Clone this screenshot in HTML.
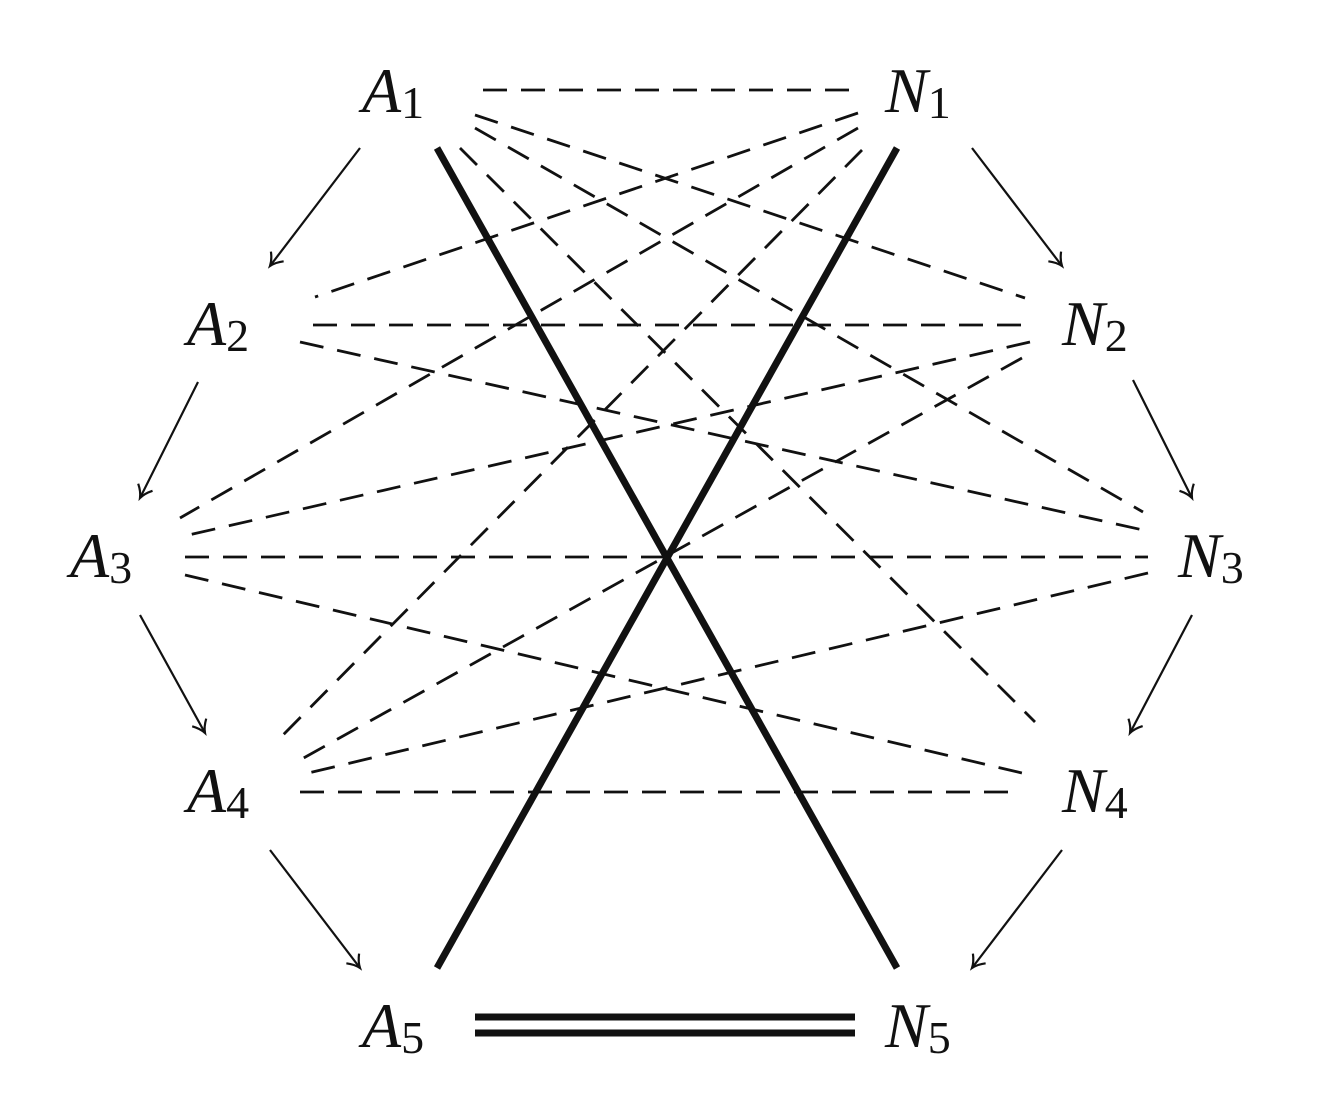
<!DOCTYPE html>
<html><head><style>html,body{margin:0;padding:0;background:#fff}svg{display:block}
text{font-family:"Liberation Serif","DejaVu Serif",serif;font-style:italic;font-size:64px;fill:#111}
tspan.s{font-style:normal;font-size:46px}
</style></head>
<body>
<svg width="1325" height="1111" viewBox="0 0 1325 1111" xmlns="http://www.w3.org/2000/svg">
<defs>
<marker id="ah" markerWidth="20" markerHeight="20" refX="14" refY="10" orient="auto" markerUnits="userSpaceOnUse">
<path d="M2,2 Q8,8 14,10 Q8,12 2,18" fill="none" stroke="#111" stroke-width="2.2"/>
</marker>
</defs>
<g stroke="#111" stroke-width="2.8" stroke-dasharray="24,14" fill="none">
<line x1="483" y1="90" x2="858" y2="90"/>
<line x1="475" y1="115" x2="1025" y2="298"/>
<line x1="475" y1="128" x2="1143" y2="512"/>
<line x1="460" y1="148" x2="1035" y2="722"/>
<line x1="858" y1="113" x2="315" y2="297"/>
<line x1="858" y1="128" x2="180" y2="518"/>
<line x1="862" y1="150" x2="283" y2="735"/>
<line x1="313" y1="325" x2="1030" y2="325"/>
<line x1="300" y1="342" x2="1143" y2="530"/>
<line x1="1030" y1="342" x2="180" y2="537"/>
<line x1="1022" y1="358" x2="300" y2="760"/>
<line x1="185" y1="557" x2="1148" y2="557"/>
<line x1="185" y1="575" x2="1022" y2="773"/>
<line x1="1148" y1="573" x2="300" y2="775"/>
<line x1="300" y1="792" x2="1020" y2="792"/>
</g>
<g stroke="#111" stroke-width="7">
<line x1="437" y1="148" x2="897" y2="968"/>
<line x1="897" y1="148" x2="437" y2="968"/>
<line x1="475" y1="1017" x2="855" y2="1017"/>
<line x1="475" y1="1033" x2="855" y2="1033"/>
</g>
<g stroke="#111" stroke-width="2.2" marker-end="url(#ah)">
<line x1="360" y1="148" x2="270" y2="266"/>
<line x1="198" y1="382" x2="140" y2="498"/>
<line x1="140" y1="615" x2="205" y2="733"/>
<line x1="270" y1="850" x2="360" y2="968"/>
<line x1="972" y1="148" x2="1062" y2="266"/>
<line x1="1133" y1="380" x2="1192" y2="498"/>
<line x1="1192" y1="615" x2="1130" y2="733"/>
<line x1="1062" y1="850" x2="972" y2="968"/>
</g>
<text x="362" y="112" style="font-family:'Liberation Serif',serif;font-style:italic">A<tspan class="s" dy="6" style="font-style:normal">1</tspan></text>
<text x="885" y="112" style="font-family:'Liberation Serif',serif;font-style:italic">N<tspan class="s" dy="6" style="font-style:normal">1</tspan></text>
<text x="187" y="345" style="font-family:'Liberation Serif',serif;font-style:italic">A<tspan class="s" dy="6" style="font-style:normal">2</tspan></text>
<text x="1062" y="345" style="font-family:'Liberation Serif',serif;font-style:italic">N<tspan class="s" dy="6" style="font-style:normal">2</tspan></text>
<text x="70" y="577" style="font-family:'Liberation Serif',serif;font-style:italic">A<tspan class="s" dy="6" style="font-style:normal">3</tspan></text>
<text x="1178" y="577" style="font-family:'Liberation Serif',serif;font-style:italic">N<tspan class="s" dy="6" style="font-style:normal">3</tspan></text>
<text x="187" y="812" style="font-family:'Liberation Serif',serif;font-style:italic">A<tspan class="s" dy="6" style="font-style:normal">4</tspan></text>
<text x="1062" y="812" style="font-family:'Liberation Serif',serif;font-style:italic">N<tspan class="s" dy="6" style="font-style:normal">4</tspan></text>
<text x="362" y="1047" style="font-family:'Liberation Serif',serif;font-style:italic">A<tspan class="s" dy="6" style="font-style:normal">5</tspan></text>
<text x="885" y="1047" style="font-family:'Liberation Serif',serif;font-style:italic">N<tspan class="s" dy="6" style="font-style:normal">5</tspan></text>
</svg>
</body></html>
